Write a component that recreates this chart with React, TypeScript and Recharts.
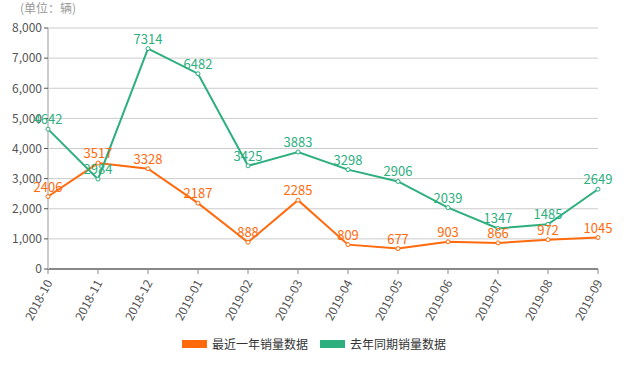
import { CartesianGrid, LabelList, Legend, Line, LineChart, XAxis, YAxis } from 'recharts'

const months = [
  '2018-10', '2018-11', '2018-12', '2019-01', '2019-02', '2019-03',
  '2019-04', '2019-05', '2019-06', '2019-07', '2019-08', '2019-09',
]
const recentYear = [2406, 3517, 3328, 2187, 888, 2285, 809, 677, 903, 866, 972, 1045]
const lastYear = [4642, 2984, 7314, 6482, 3425, 3883, 3298, 2906, 2039, 1347, 1485, 2649]
const yTicks = [0, 1000, 2000, 3000, 4000, 5000, 6000, 7000, 8000]

const ORANGE = '#FF6A0D'
const GREEN = '#2DAF7E'
const FONT = '"Noto Sans CJK SC", "Open Sans", sans-serif'

const data = months.map((m, i) => ({
  month: m,
  recent: recentYear[i],
  last: lastYear[i],
}))

function LegendContent() {
  const items = [
    { name: '最近一年销量数据', color: ORANGE },
    { name: '去年同期销量数据', color: GREEN },
  ]
  return (
    <div style={{ display: 'flex', justifyContent: 'center', gap: 12, fontSize: 12, color: '#333', marginLeft: 30 }}>
      {items.map((it) => (
        <div key={it.name} style={{ display: 'flex', alignItems: 'center' }}>
          <span style={{ display: 'inline-block', width: 25, height: 8, background: it.color, marginRight: 5 }} />
          <span>{it.name}</span>
        </div>
      ))}
    </div>
  )
}

function XTick(props: { x?: number; y?: number; payload?: { value: string } }) {
  const { x = 0, y = 0, payload } = props
  return (
    <text
      x={x}
      y={y + 4}
      transform={`rotate(-62 ${x} ${y + 4})`}
      textAnchor="end"
      dominantBaseline="central"
      fill="#555"
      fontSize={12}
      fontFamily={FONT}
    >
      {payload?.value}
    </text>
  )
}

export default function App() {
  return (
    <div style={{ position: 'absolute', left: 0, top: 0, width: 643, height: 365, background: '#fff', fontFamily: FONT }}>
      <div style={{ position: 'absolute', left: 20, top: -1, fontSize: 12, color: '#999' }}>(单位：辆)</div>
      <LineChart
        width={643}
        height={365}
        data={data}
        margin={{ top: 28, right: 45, bottom: 8, left: 0 }}
      >
        <CartesianGrid stroke="#cccccc" vertical={false} />
        <XAxis
          dataKey="month"
          interval={0}
          height={66}
          tick={<XTick />}
          tickLine={{ stroke: '#888' }}
          tickSize={5}
          axisLine={{ stroke: '#888', strokeWidth: 2 }}
        />
        <YAxis
          width={48}
          domain={[0, 8000]}
          ticks={yTicks}
          tickFormatter={(v: number) => v.toLocaleString('en-US')}
          tick={{ fill: '#555', fontSize: 12, fontFamily: FONT }}
          tickLine={{ stroke: '#555' }}
          tickSize={4}
          axisLine={{ stroke: '#ccc', strokeWidth: 2 }}
        />
        <Legend verticalAlign="bottom" height={22} content={<LegendContent />} />
        <Line
          dataKey="recent"
          name="最近一年销量数据"
          stroke={ORANGE}
          strokeWidth={2}
          dot={{ r: 2, fill: '#fff', stroke: ORANGE, strokeWidth: 1 }}
          isAnimationActive={false}
        >
          <LabelList dataKey="recent" position="top" fill={ORANGE} fontSize={13} fontFamily={FONT} />
        </Line>
        <Line
          dataKey="last"
          name="去年同期销量数据"
          stroke={GREEN}
          strokeWidth={2}
          dot={{ r: 2, fill: '#fff', stroke: GREEN, strokeWidth: 1 }}
          isAnimationActive={false}
        >
          <LabelList dataKey="last" position="top" fill={GREEN} fontSize={13} fontFamily={FONT} />
        </Line>
      </LineChart>
    </div>
  )
}
